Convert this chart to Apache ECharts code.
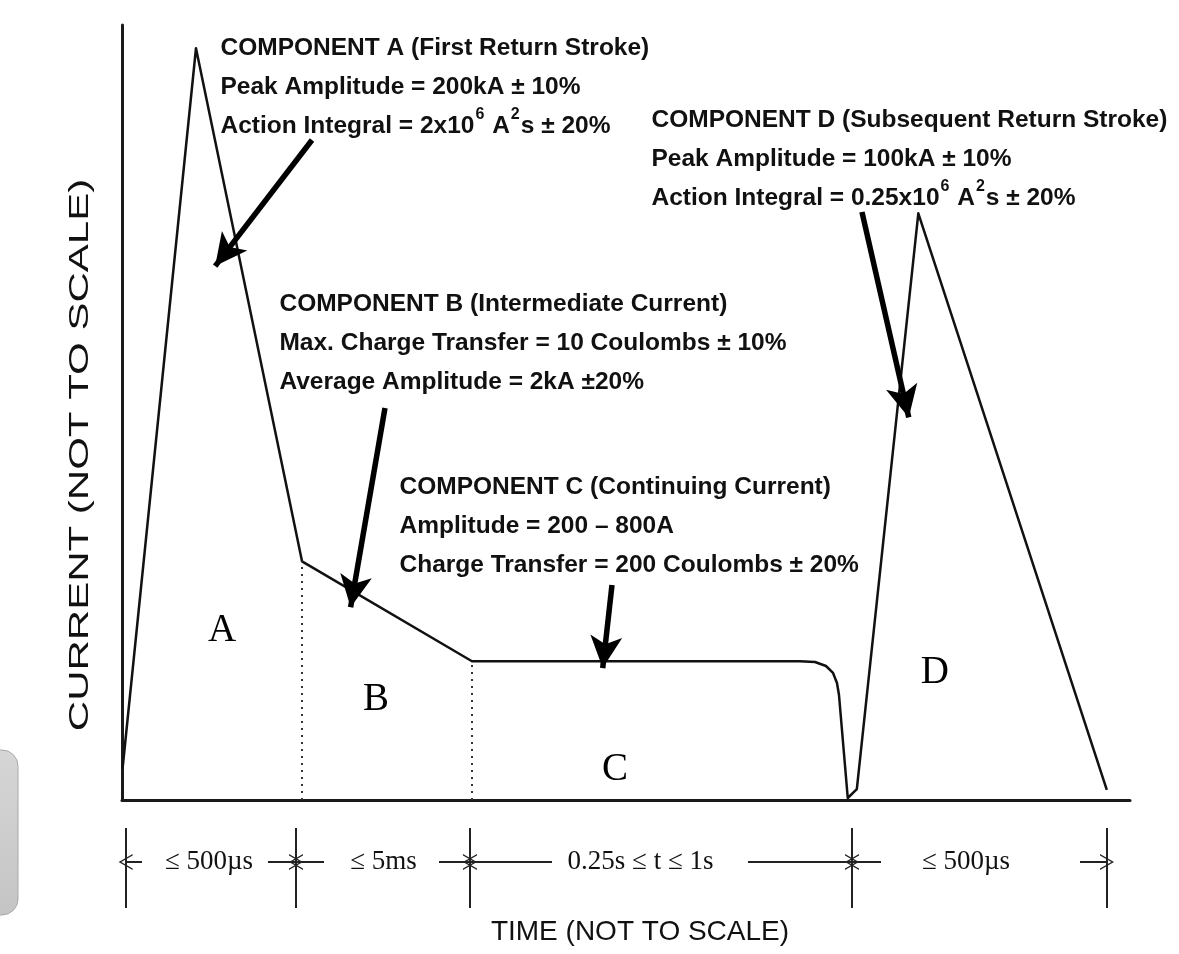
<!DOCTYPE html>
<html>
<head>
<meta charset="utf-8">
<script src="https://cdn.jsdelivr.net/npm/echarts@6/dist/echarts.min.js"></script>
<style>
  html, body { margin: 0; padding: 0; background: #ffffff; }
  #chart { width: 1179px; height: 954px; }
</style>
</head>
<body>
<div id="chart"></div>
<script>
// Idealised lightning current waveform, time and current in arbitrary (not to scale) units
const waveT = [0.05, 7.34, 17.86, 34.72, 67.26, 68.75, 69.84, 70.54, 70.93, 71.13, 72.0, 72.9, 79.0, 97.7];
const waveI = [4.0, 97.0, 30.8, 17.9, 17.9, 17.81, 17.29, 16.39, 15.10, 13.55, 0.26, 1.4, 75.7, 1.3];

// Component boundaries marked with dotted verticals (start of B and of C)
const dividerT = [17.86, 34.72];
const dividerI = [30.8, 17.9];

// Component letters inside the waveform
const segLetters = ['A', 'B', 'C', 'D'];
const segLetterT = [9.92, 25.2, 48.9, 80.65];
const segLetterI = [21.9, 12.9, 3.9, 16.4];

// Component descriptions (first line is the heading)
const noteA = ['COMPONENT A (First Return Stroke)', 'Peak Amplitude = 200kA ± 10%', 'Action Integral = 2x10⁶ A²s ± 20%'];
const noteB = ['COMPONENT B (Intermediate Current)', 'Max. Charge Transfer = 10 Coulombs ± 10%', 'Average Amplitude = 2kA ±20%'];
const noteC = ['COMPONENT C (Continuing Current)', 'Amplitude = 200 – 800A', 'Charge Transfer = 200 Coulombs ± 20%'];
const noteD = ['COMPONENT D (Subsequent Return Stroke)', 'Peak Amplitude = 100kA ± 10%', 'Action Integral = 0.25x10⁶ A²s ± 20%'];
const notes = [noteA, noteB, noteC, noteD];
const noteT = [9.82, 15.67, 27.58, 52.58];
const noteI = [99.5, 66.45, 42.84, 90.2];

// Pointer arrows from each description to its component: [tailT, tailI, headT, headI]
const pointerA = [18.85, 85.16, 9.24, 68.89];
const pointerB = [26.09, 50.58, 22.68, 24.88];
const pointerC = [48.61, 27.74, 47.69, 17.02];
const pointerD = [73.41, 75.87, 78.05, 49.37];
const pointers = [pointerA, pointerB, pointerC, pointerD];

// Duration scale below the time axis
const durationMarks = [0.36, 17.26, 34.52, 72.42, 97.72];
const durationLabels = ['≤ 500µs', '≤ 5ms', '0.25s ≤ t ≤ 1s', '≤ 500µs'];
const durationLabelT = [8.63, 25.94, 51.44, 83.73];
// Dimension arrows: [fromT, toT], head at toT
const durationArrows = [[1.98, 0.36], [14.48, 17.26], [20.04, 17.26], [31.45, 34.52],
                        [42.66, 34.52], [62.10, 72.42], [75.30, 72.42], [95.04, 97.72]];

const ink = '#000000';
const chevron = 'path://M10,0 L20,16 L18,16 L10,3 L2,16 L0,16 Z';

// Superscript characters are drawn as raised rich-text tokens
const supDigits = { '⁶': '6', '²': '2' };
function withSuperscripts(text) {
  return text.replace(/[⁶²]/g, ch => '{sup|' + supDigits[ch] + '}');
}

const chart = echarts.init(document.getElementById('chart'), null, { renderer: 'canvas' });

const wave = waveT.map((t, i) => [t, waveI[i]]);

// Invisible anchor points that only carry a text label
const anchorStyle = { color: 'rgba(0,0,0,0)', opacity: 1 };

const option = {
  animation: false,
  backgroundColor: '#ffffff',
  grid: [
    { left: 122, right: 49, top: 25, bottom: 154, outerBoundsMode: 'none', containLabel: false },
    { left: 122, right: 49, top: 820, height: 100, outerBoundsMode: 'none', containLabel: false }
  ],
  xAxis: [
    {
      type: 'value', gridIndex: 0, min: 0, max: 100,
      axisLine: { show: true, onZero: false, lineStyle: { color: '#1a1a1a', width: 3 } },
      axisTick: { show: false }, axisLabel: { show: false }, splitLine: { show: false }
    },
    { type: 'value', gridIndex: 1, min: 0, max: 100, show: false }
  ],
  yAxis: [
    {
      type: 'value', gridIndex: 0, min: 0, max: 100,
      axisLine: { show: true, onZero: false, lineStyle: { color: '#1a1a1a', width: 3 } },
      axisTick: { show: false }, axisLabel: { show: false }, splitLine: { show: false }
    },
    { type: 'value', gridIndex: 1, min: 0, max: 100, show: false }
  ],
  series: [
    {
      name: 'Current',
      type: 'line',
      xAxisIndex: 0, yAxisIndex: 0,
      data: wave,
      symbol: 'none',
      clip: false,
      lineStyle: { color: '#111111', width: 2.5, join: 'round' },
      markLine: {
        silent: true,
        symbol: ['none', 'none'],
        label: { show: false },
        lineStyle: { color: '#333333', width: 2, type: [2, 5] },
        data: dividerT.map((t, i) => [{ coord: [t, 0] }, { coord: [t, dividerI[i]] }])
      }
    },
    {
      name: 'Components',
      type: 'scatter',
      xAxisIndex: 0, yAxisIndex: 0,
      symbolSize: 1,
      itemStyle: anchorStyle,
      data: segLetters.map((s, i) => ({ value: [segLetterT[i], segLetterI[i]], name: s })),
      label: {
        show: true, position: 'inside', align: 'center', verticalAlign: 'middle',
        formatter: p => p.name, opacity: 1, textBorderWidth: 0,
        fontFamily: 'Liberation Serif', fontSize: 39, color: ink
      }
    },
    {
      name: 'Notes',
      type: 'scatter',
      xAxisIndex: 0, yAxisIndex: 0,
      symbolSize: 1,
      itemStyle: anchorStyle,
      clip: false,
      data: notes.map((lines, i) => ({ value: [noteT[i], noteI[i]], name: lines.join('\n') })),
      label: {
        show: true, position: [0, 0], align: 'left', verticalAlign: 'top',
        formatter: p => withSuperscripts(p.name), opacity: 1, textBorderWidth: 0,
        fontFamily: 'Liberation Sans', fontWeight: 'bold', fontSize: 24.5, lineHeight: 39, color: '#111111',
        rich: {
          sup: {
            fontFamily: 'Liberation Sans', fontWeight: 'bold', fontSize: 16,
            lineHeight: 35, verticalAlign: 'top', color: '#111111', padding: [0, 1, 0, 1]
          }
        }
      },
      markLine: {
        silent: true,
        symbol: ['none', 'arrow'],
        symbolSize: [24, 32],
        label: { show: false },
        lineStyle: { color: '#000000', width: 5.5, type: 'solid', opacity: 1 },
        data: pointers.map(p => [{ coord: [p[0], p[1]] }, { coord: [p[2], p[3]] }])
      }
    },
    {
      name: 'Durations',
      type: 'scatter',
      xAxisIndex: 1, yAxisIndex: 1,
      symbolSize: 1,
      itemStyle: anchorStyle,
      data: durationLabels.map((s, i) => ({ value: [durationLabelT[i], 58], name: s })),
      label: {
        show: true, position: 'inside', align: 'center', verticalAlign: 'middle',
        formatter: p => p.name, opacity: 1, textBorderWidth: 0,
        fontFamily: 'Liberation Serif', fontSize: 27, color: '#111111'
      },
      markLine: {
        silent: true,
        label: { show: false },
        lineStyle: { color: '#222222', width: 2, type: 'solid', opacity: 1 },
        data: durationMarks.map(t => [
          { coord: [t, 12], symbol: 'none' },
          { coord: [t, 92], symbol: 'none' }
        ]).concat(durationArrows.map(a => [
          { coord: [a[0], 58], symbol: 'none' },
          { coord: [a[1], 58], symbol: chevron, symbolSize: [16, 14] }
        ]))
      }
    }
  ],
  graphic: [
    {
      type: 'rect',
      shape: { x: -30, y: 750, width: 48, height: 165, r: 16 },
      style: {
        fill: new echarts.graphic.LinearGradient(0, 0, 0, 1, [
          { offset: 0, color: '#d6d6d6' }, { offset: 1, color: '#c4c4c4' }
        ]),
        stroke: '#a8a8a8', lineWidth: 1
      },
      silent: true
    },
    {
      type: 'text',
      x: 80, y: 455,
      rotation: Math.PI / 2,
      scaleX: 1.5,
      style: {
        text: 'CURRENT (NOT TO SCALE)',
        font: '28px "Liberation Sans"',
        fill: '#111111', align: 'center', verticalAlign: 'middle'
      },
      silent: true
    },
    {
      type: 'text',
      x: 640, y: 932,
      style: {
        text: 'TIME (NOT TO SCALE)',
        font: '28px "Liberation Sans"',
        fill: '#111111', align: 'center', verticalAlign: 'middle'
      },
      silent: true
    }
  ]
};

chart.setOption(option);
</script>
</body>
</html>
